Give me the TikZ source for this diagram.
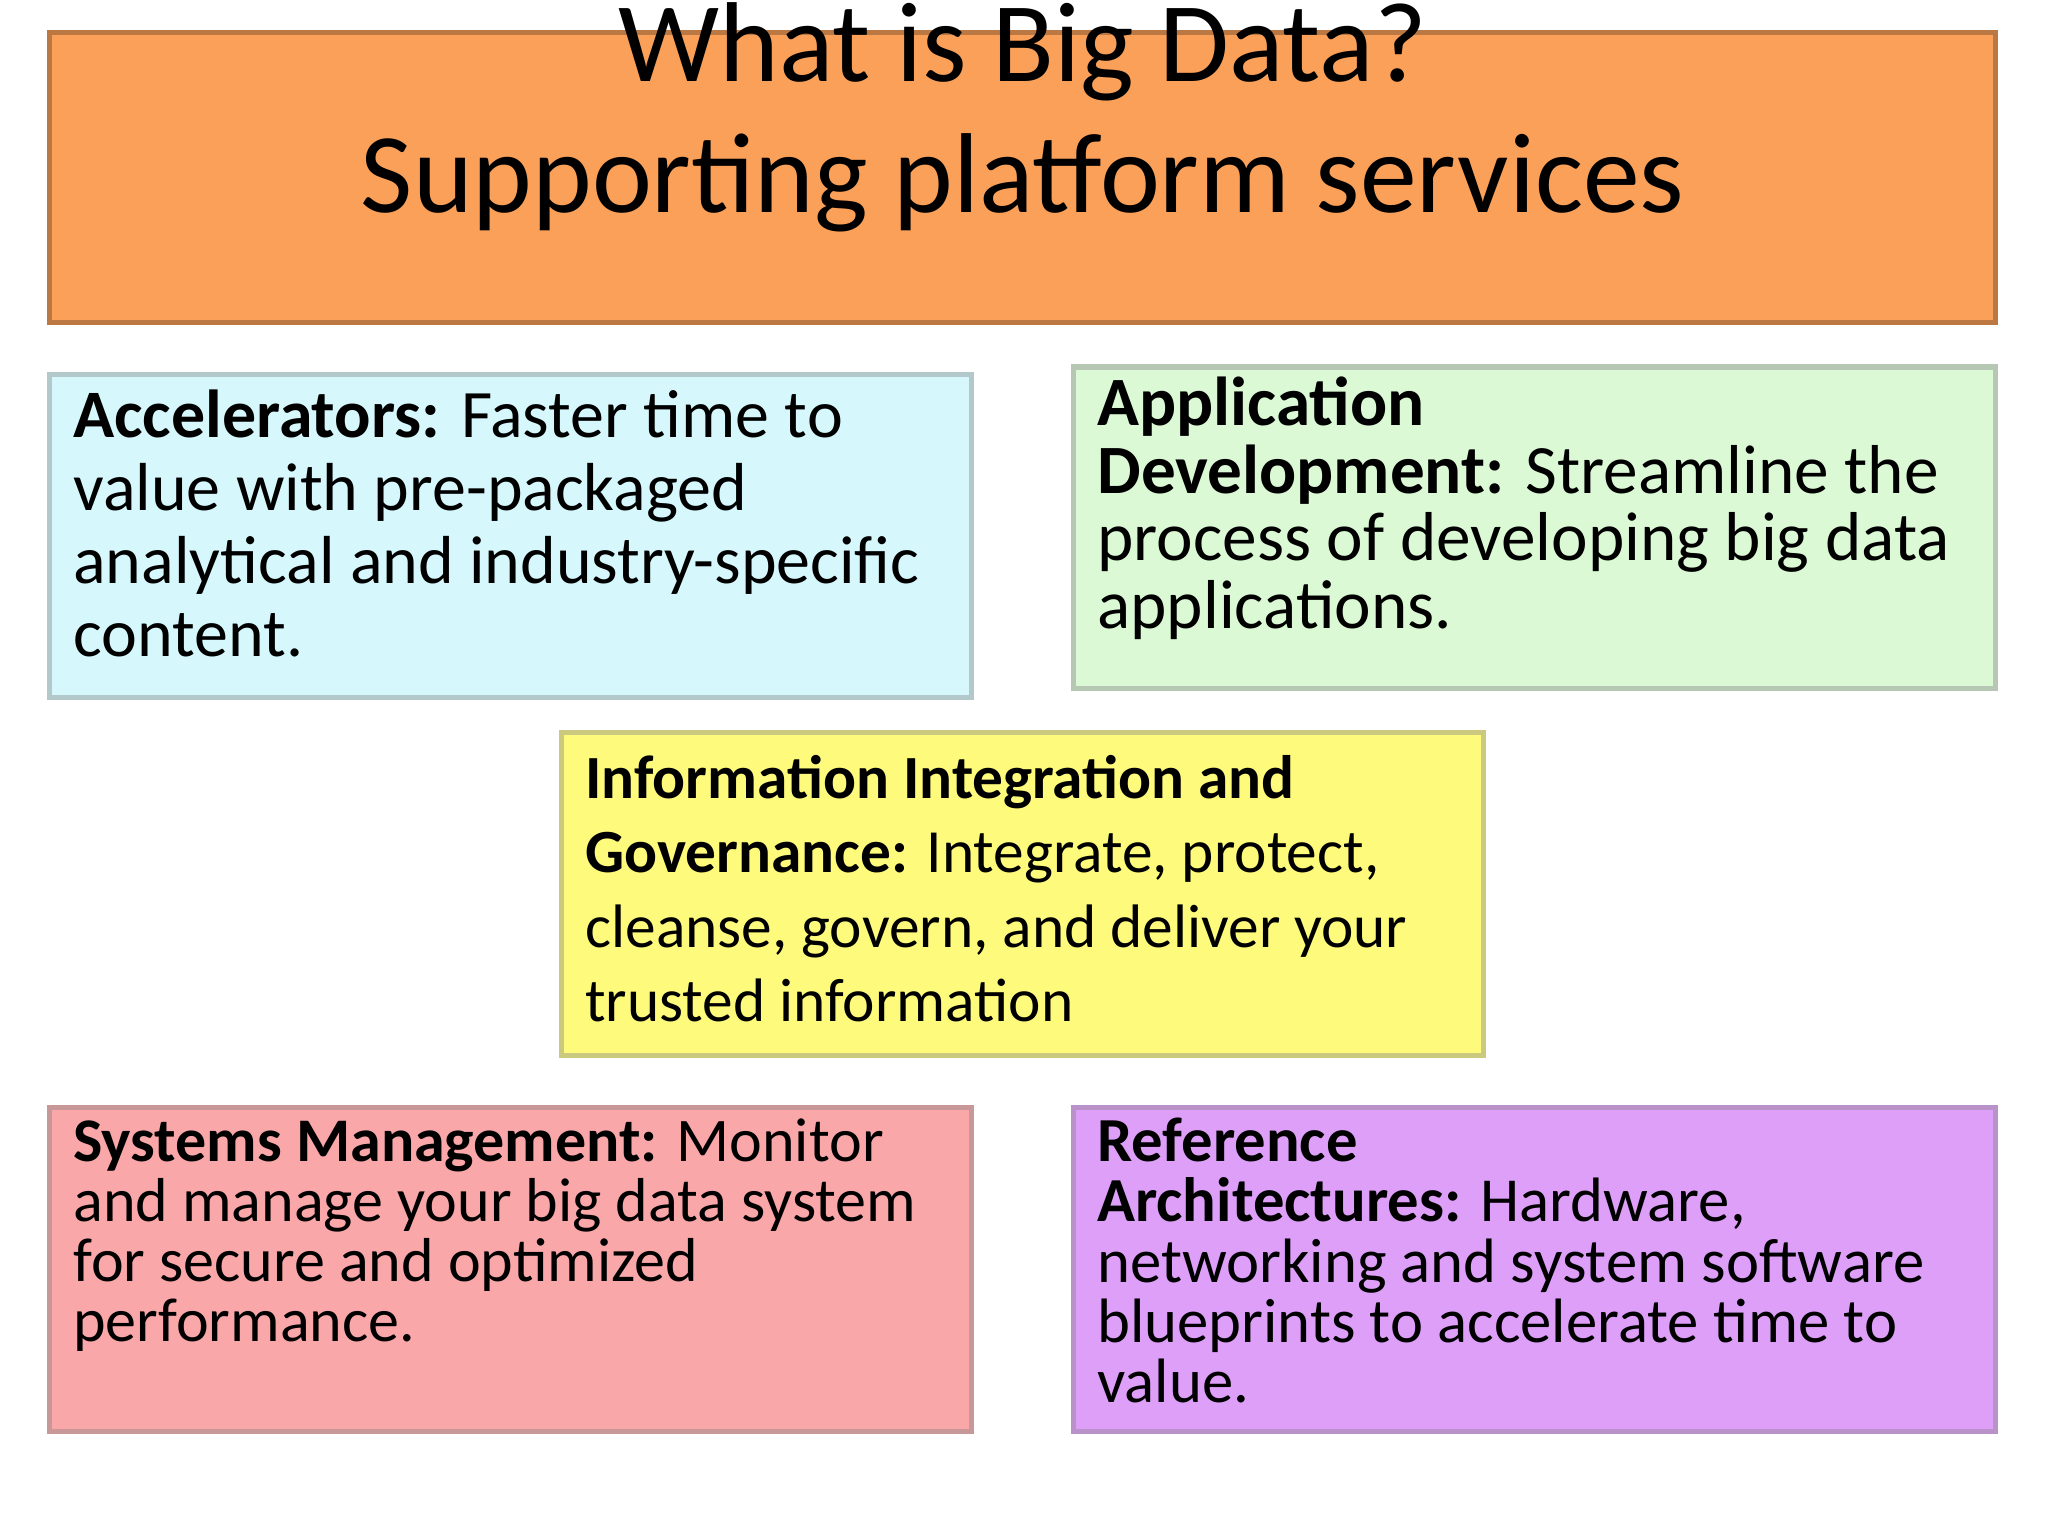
\documentclass[tikz,border=0pt]{standalone}
\usepackage{fontspec}
\setmainfont{Carlito}
\definecolor{org}{HTML}{FBA059}
\definecolor{cyn}{HTML}{D6F8FC}
\definecolor{grn}{HTML}{DBF9D5}
\definecolor{yel}{HTML}{FEFA7C}
\definecolor{pnk}{HTML}{F9A7A9}
\definecolor{vio}{HTML}{DD9FF8}
\tikzset{
 panel/.style={line width=4pt},
 txt/.style={anchor=north west, inner sep=0pt, align=left},
}
\begin{document}
\begin{tikzpicture}[x=1pt,y=-1pt]
\useasboundingbox[fill=white] (0,0) rectangle (1568,1176);
\fill[org] (38,25) rectangle (1528,247);
\draw[panel,org!75!black] (38,25) rectangle (1528,247);
\node[font=\fontsize{87}{90}\selectfont] (t1) at (783,40) {What is Big Data?};
\node[font=\fontsize{87}{90}\selectfont] (t2) at (783,140) {Supporting platform services};

\filldraw[panel,fill=cyn,draw=cyn!60!gray] (38,287) rectangle (744,534);
\node[txt,font=\fontsize{52}{56}\selectfont] (a) at (56,298) {\textbf{Accelerators:} Faster time to\\ value with pre-packaged\\ analytical and industry-specific\\ content.};

\filldraw[panel,fill=grn,draw=grn!60!gray] (822,281) rectangle (1528,527);
\node[txt,font=\fontsize{53}{52}\selectfont] (b) at (840,288) {\textbf{Application}\\ \textbf{Development:} Streamline the\\ process of developing big data\\ applications.};

\filldraw[panel,fill=yel,draw=yel!60!gray] (430,561) rectangle (1136,808);
\node[txt,font=\fontsize{47}{57}\selectfont] (c) at (448,578) {\textbf{Information Integration and}\\ \textbf{Governance:} Integrate, protect,\\ cleanse, govern, and deliver your\\ trusted information};

\filldraw[panel,fill=pnk,draw=pnk!60!gray] (38,848) rectangle (744,1096);
\node[txt,font=\fontsize{47.5}{46}\selectfont] (d) at (56,856) {\textbf{Systems Management:} Monitor\\ and manage your big data system\\ for secure and optimized\\ performance.};

\filldraw[panel,fill=vio,draw=vio!60!gray] (822,848) rectangle (1528,1096);
\node[txt,font=\fontsize{48}{46}\selectfont] (e) at (840,856) {\textbf{Reference}\\ \textbf{Architectures:} Hardware,\\ networking and system software\\ blueprints to accelerate time to\\ value.};
\end{tikzpicture}
\end{document}
